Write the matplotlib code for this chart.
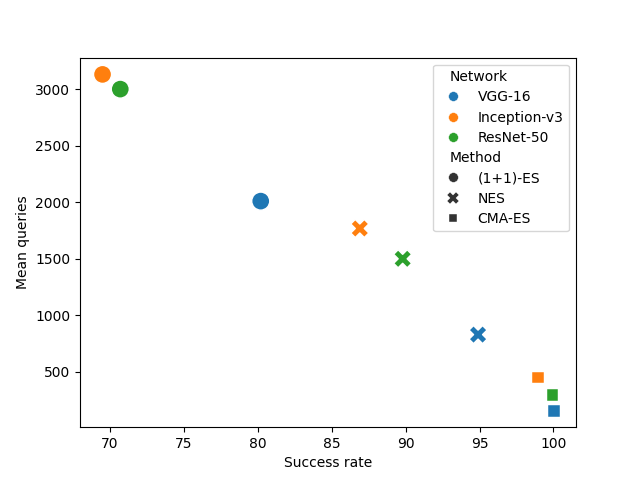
import matplotlib
matplotlib.use("Agg")
import matplotlib.pyplot as plt
from matplotlib.lines import Line2D
import seaborn as sns
import pandas as pd

networks = ["VGG-16", "Inception-v3", "ResNet-50"]
methods = ["(1+1)-ES", "NES", "CMA-ES"]

net_col = ["VGG-16", "Inception-v3", "ResNet-50",
           "VGG-16", "Inception-v3", "ResNet-50",
           "VGG-16", "Inception-v3", "ResNet-50"]
method_col = ["(1+1)-ES", "(1+1)-ES", "(1+1)-ES",
              "NES", "NES", "NES",
              "CMA-ES", "CMA-ES", "CMA-ES"]
success_rate = [80.2, 69.5, 70.7, 94.9, 86.9, 89.8, 100.0, 98.9, 99.9]
mean_queries = [2010, 3130, 3000, 830, 1768, 1500, 160, 456, 300]

df = pd.DataFrame({"Network": net_col, "Method": method_col,
                   "Success rate": success_rate, "Mean queries": mean_queries})

palette = ["#1f77b4", "#ff7f0e", "#2ca02c"]
markers = ["o", "X", (4, 0, 45)]

fig, ax = plt.subplots(figsize=(6.4, 4.8), dpi=100)
sns.scatterplot(data=df, x="Success rate", y="Mean queries", hue="Network",
                style="Method", hue_order=networks, style_order=methods,
                palette=palette, markers=markers, s=170, ax=ax, legend=False)

ms = 7
handles, labels = [], []
handles.append(Line2D([], [], linestyle="", visible=False)); labels.append("Network")
for n, c in zip(networks, palette):
    handles.append(Line2D([], [], linestyle="", marker="o", markersize=ms,
                          color=c, markeredgecolor="w", markeredgewidth=0.3))
    labels.append(n)
handles.append(Line2D([], [], linestyle="", visible=False)); labels.append("Method")
for m, mk in zip(methods, markers):
    handles.append(Line2D([], [], linestyle="", marker=mk,
                          markersize=ms * (1.15 if mk != "o" else 1.0),
                          color=".2", markeredgecolor="w", markeredgewidth=0.3))
    labels.append(m)
leg = ax.legend(handles, labels, loc="upper right", labelspacing=0.45)

from seaborn.utils import adjust_legend_subtitles
adjust_legend_subtitles(leg)

fig.savefig("out.png")
